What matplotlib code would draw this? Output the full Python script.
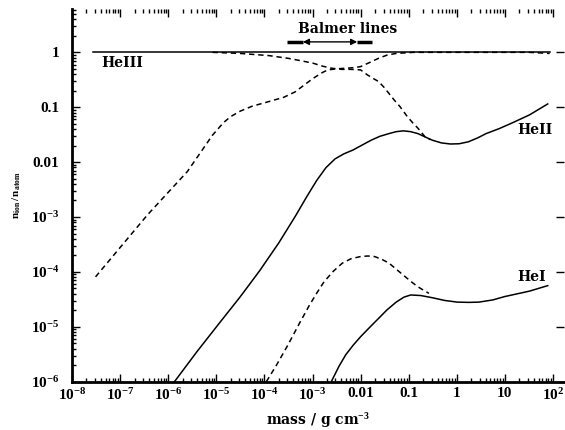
import matplotlib
matplotlib.use('Agg')
import matplotlib.pyplot as plt
import numpy as np
from matplotlib.ticker import NullFormatter, LogLocator

plt.rcParams['mathtext.fontset'] = 'custom'
plt.rcParams['mathtext.rm'] = 'Liberation Serif:bold'
plt.rcParams['mathtext.bf'] = 'Liberation Serif:bold'
plt.rcParams['mathtext.it'] = 'Liberation Serif:italic:bold'
plt.rcParams['mathtext.default'] = 'rm'

# ---- data (log10 of mass column and of fraction) ----
heIII_logm = [-7.57, 1.93]
heIII_logf = [0.0, 0.0]

heIII_dash_logm = [-7.51, -6.43, -5.60, -5.08, -4.85, -4.70, -4.50, -4.25, -4.00, -3.80, -3.60,
                   -3.36, -3.15, -2.98, -2.80, -2.68, -2.50, -2.31, -2.15, -2.00, -1.80, -1.63,
                   -1.45, -1.26, -0.90, 1.50, 1.93]
heIII_dash_logf = [-4.09, -2.96, -2.17, -1.51, -1.28, -1.17, -1.07, -0.98, -0.92, -0.87, -0.82,
                   -0.72, -0.58, -0.47, -0.37, -0.32, -0.30, -0.29, -0.28, -0.26, -0.18, -0.11,
                   -0.05, -0.02, 0.0, 0.0, -0.02]

heII_dash_logm = [-5.08, -4.50, -3.90, -3.50, -3.20, -2.98, -2.80, -2.60, -2.40, -2.20, -2.00,
                  -1.86, -1.75, -1.63, -1.52, -1.41, -1.30, -1.18, -1.03, -0.92, -0.81, -0.66, -0.55]
heII_dash_logf = [0.0, -0.02, -0.06, -0.11, -0.16, -0.20, -0.25, -0.29, -0.31, -0.31, -0.32,
                  -0.41, -0.47, -0.53, -0.63, -0.75, -0.87, -0.99, -1.17, -1.28, -1.38, -1.54, -1.59]

heII_logm = [-5.87, -5.40, -4.97, -4.50, -4.10, -3.70, -3.36, -3.12, -2.91, -2.72, -2.53, -2.35,
             -2.16, -1.97, -1.78, -1.60, -1.41, -1.26, -1.11, -0.96, -0.81, -0.66, -0.51, -0.32,
             -0.13, 0.05, 0.24, 0.43, 0.61, 0.88, 1.14, 1.51, 1.89]
heII_logf = [-6.0, -5.45, -4.97, -4.45, -3.98, -3.47, -2.99, -2.63, -2.33, -2.10, -1.94, -1.85,
             -1.78, -1.69, -1.60, -1.53, -1.48, -1.445, -1.43, -1.445, -1.48, -1.54, -1.60, -1.65,
             -1.67, -1.665, -1.63, -1.56, -1.48, -1.39, -1.29, -1.14, -0.94]

heI_dash_logm = [-3.96, -3.75, -3.51, -3.28, -3.06, -2.90, -2.76, -2.57, -2.38, -2.20, -2.00,
                 -1.85, -1.71, -1.56, -1.41, -1.26, -1.11, -0.96, -0.81, -0.68, -0.58]
heI_dash_logf = [-6.0, -5.70, -5.33, -4.95, -4.60, -4.37, -4.18, -3.99, -3.84, -3.76, -3.72,
                 -3.71, -3.72, -3.77, -3.84, -3.95, -4.06, -4.17, -4.27, -4.34, -4.39]

heI_logm = [-2.61, -2.45, -2.31, -2.15, -2.00, -1.80, -1.63, -1.45, -1.26, -1.10, -0.96, -0.75,
            -0.51, -0.25, 0.01, 0.25, 0.46, 0.75, 0.99, 1.25, 1.51, 1.89]
heI_logf = [-6.0, -5.72, -5.51, -5.33, -5.18, -5.00, -4.85, -4.69, -4.55, -4.46, -4.42, -4.43,
            -4.47, -4.52, -4.55, -4.555, -4.55, -4.51, -4.45, -4.40, -4.35, -4.25]

xtick_vals = [1e-8, 1e-7, 1e-6, 1e-5, 1e-4, 1e-3, 1e-2, 1e-1, 1, 10, 100]
xtick_labels = [r'$10^{-8}$', r'$10^{-7}$', r'$10^{-6}$', r'$10^{-5}$', r'$10^{-4}$',
                r'$10^{-3}$', '0.01', '0.1', '1', '10', r'$10^{2}$']
ytick_vals = [1e-6, 1e-5, 1e-4, 1e-3, 1e-2, 1e-1, 1]
ytick_labels = [r'$10^{-6}$', r'$10^{-5}$', r'$10^{-4}$', r'$10^{-3}$', '0.01', '0.1', '1']


def pw(a):
    return np.power(10.0, a)


fig = plt.figure(figsize=(5.65, 4.30), dpi=100)
ax = fig.add_axes([0.1274, 0.1123, 0.8708, 0.8667])
ax.set_xscale('log')
ax.set_yscale('log')
ax.set_xlim(1e-8, 169)
ax.set_ylim(1e-6, 6.15)

dash = (3.5, 2.5)
lw = 1.1
ax.plot(pw(heIII_logm), pw(heIII_logf), color='k', lw=lw)
ax.plot(pw(heIII_dash_logm), pw(heIII_dash_logf), color='k', lw=lw, ls=(0, dash))
ax.plot(pw(heII_dash_logm), pw(heII_dash_logf), color='k', lw=lw, ls=(0, dash))
ax.plot(pw(heII_logm), pw(heII_logf), color='k', lw=lw)
ax.plot(pw(heI_dash_logm), pw(heI_dash_logf), color='k', lw=lw, ls=(0, dash))
ax.plot(pw(heI_logm), pw(heI_logf), color='k', lw=lw)

lab_font = dict(family='DejaVu Serif', weight='bold', size=10)
ax.text(4.0e-8, 0.63, 'HeIII', ha='left', va='center', **lab_font)
ax.text(17.8, 0.039, 'HeII', ha='left', va='center', **lab_font)
ax.text(17.8, 8.1e-5, 'HeI', ha='left', va='center', **lab_font)
ax.text(5.5e-3, 2.63, 'Balmer lines', ha='center', va='center', **lab_font)

# Balmer range arrow
ax.annotate('', xy=(8.5e-3, 1.55), xytext=(6.3e-4, 1.55),
            arrowprops=dict(arrowstyle='<|-|>', lw=1.0, color='k', mutation_scale=9,
                            shrinkA=0, shrinkB=0))
ax.plot([2.95e-4, 6.3e-4], [1.55, 1.55], color='k', lw=2.5, solid_capstyle='butt')
ax.plot([8.5e-3, 1.74e-2], [1.55, 1.55], color='k', lw=2.5, solid_capstyle='butt')

ax.set_xticks(xtick_vals, xtick_labels)
ax.set_yticks(ytick_vals, ytick_labels)
ax.xaxis.set_minor_locator(LogLocator(base=10, subs=range(2, 10), numticks=30))
ax.yaxis.set_minor_locator(LogLocator(base=10, subs=range(2, 10), numticks=30))
ax.xaxis.set_minor_formatter(NullFormatter())
ax.yaxis.set_minor_formatter(NullFormatter())

for lbl in ax.get_xticklabels() + ax.get_yticklabels():
    lbl.set_fontfamily('Liberation Serif')
    lbl.set_fontweight('bold')
    lbl.set_fontsize(11)

ax.spines['top'].set_visible(False)
ax.spines['right'].set_visible(False)
ax.spines['left'].set_linewidth(2.0)
ax.spines['bottom'].set_linewidth(2.0)
ax.tick_params(which='both', direction='in', top=True, right=True, width=1.0)
ax.tick_params(which='major', length=6)
ax.tick_params(which='minor', length=3, right=False)
ax.tick_params(axis='x', which='major', pad=4)
ax.tick_params(axis='y', which='major', pad=9)

ax.set_xlabel(r'mass / g cm$^{-3}$', family='DejaVu Serif', weight='bold', size=10, labelpad=6)
ax.set_ylabel(r'$n_{\rm ion}\,/\,n_{\rm atom}$', size=8, labelpad=6)

fig.savefig('out.png', dpi=100)
